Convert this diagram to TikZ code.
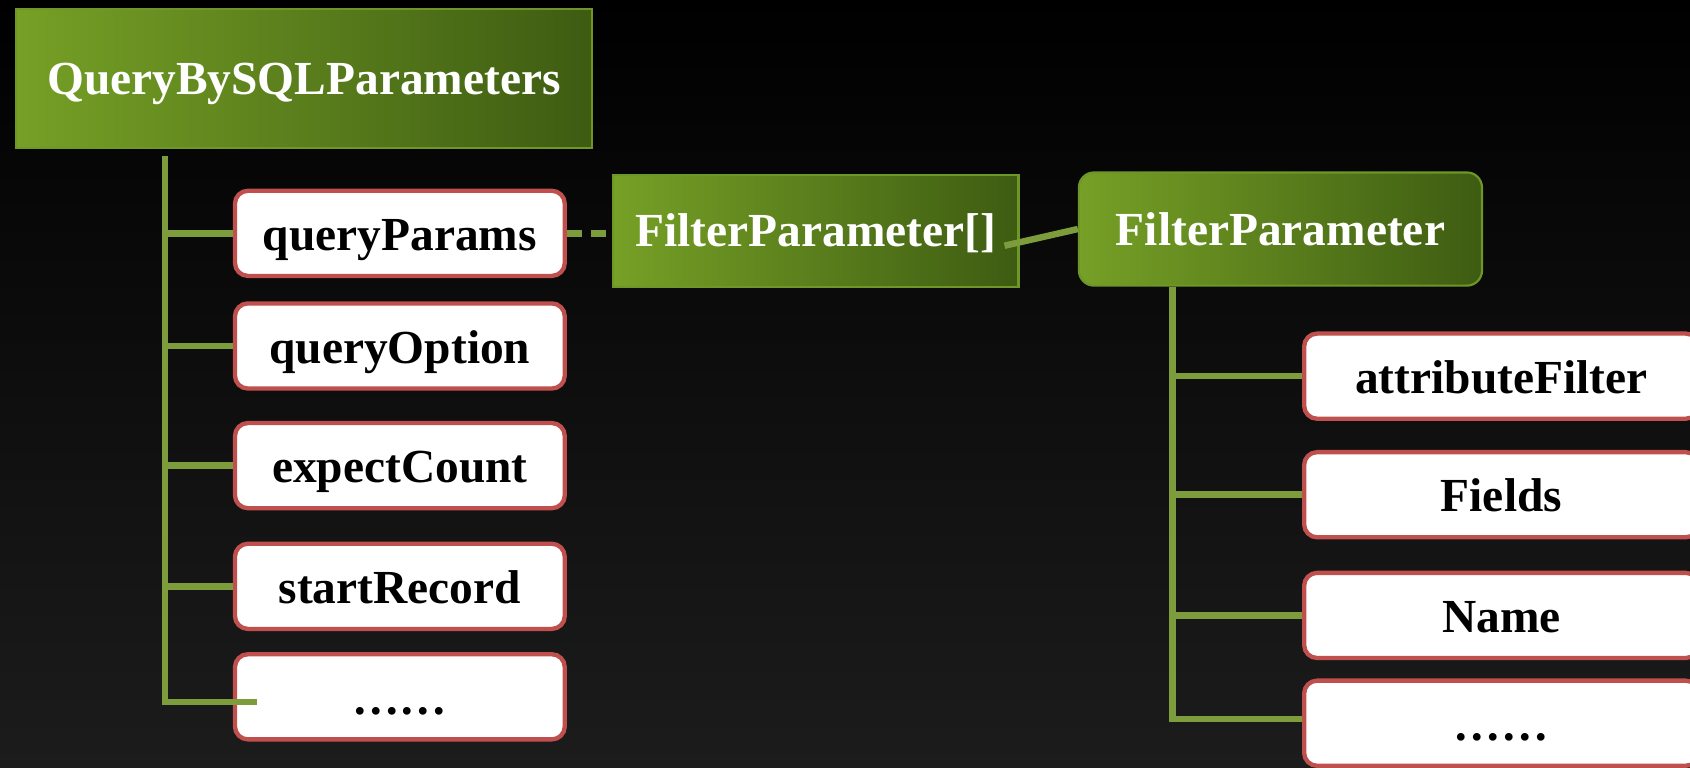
\documentclass[tikz,border=0pt]{standalone}
\usepackage{fontspec}
\setmainfont{Liberation Serif}
\usetikzlibrary{calc}
\definecolor{linkgreen}{RGB}{125,157,60}
\definecolor{headlight}{RGB}{118,160,38}
\definecolor{headmid}{RGB}{98,138,30}
\definecolor{headdark}{RGB}{62,92,18}
\definecolor{headrim}{RGB}{110,150,40}
\definecolor{itemrim}{RGB}{192,80,77}
\definecolor{bgbottom}{RGB}{28,28,28}
\tikzset{
    head/.style={left color=headlight, middle color=headmid, right color=headdark, draw=headrim, line width=2pt, text=white, inner sep=0pt, text height=34pt, text depth=4pt, font=\bfseries\fontsize{44}{52}\selectfont},
    item/.style={fill=white, draw=itemrim, line width=4pt, rounded corners=12pt, minimum width=306pt, minimum height=79pt, inner sep=0pt, text height=36pt, text depth=4pt, font=\bfseries\fontsize{44}{52}\selectfont},
    link/.style={draw=linkgreen, line width=6pt}
}

\begin{document}
\begin{tikzpicture}[x=1pt, y=-1pt]
    \useasboundingbox (0,0) rectangle (1568,712);
    \shade[top color=black, bottom color=bgbottom] (0,0) rectangle (1568,712);

    \node[head, minimum width=534pt, minimum height=129pt] at (282, 72.5) (qbs) {QueryBySQLParameters};
    \node[item] at (371, 216.5) (qp) {queryParams};
    \node[item] at (371, 321) (qo) {queryOption};
    \node[item] at (371, 432) (ec) {expectCount};
    \node[item] at (371, 544) (sr) {startRecord};
    \node[item] at (371, 646.5) (more1) {……};

    \node[head, minimum width=376pt, minimum height=104pt] at (757, 214) (fpa) {FilterParameter[]};
    \node[head, minimum width=374pt, minimum height=105pt, rounded corners=14pt] at (1188, 212.5) (fp) {FilterParameter};
    \node[item, minimum width=366pt] at (1393, 349) (af) {attributeFilter};
    \node[item, minimum width=366pt] at (1393, 459) (fl) {Fields};
    \node[item, minimum width=366pt] at (1393, 571) (nm) {Name};
    \node[item, minimum width=366pt] at (1393, 671) (more2) {……};

    \coordinate (ltop) at ($(qbs.south west)+(139,7)$);
    \coordinate (rtop) at ($(fp.south west)+(88,0)$);
    \draw[link] (ltop) |- ($(more1.west)+(22,5)$);
    \foreach \n in {qp,qo,ec,sr}
        \draw[link] (ltop |- \n.west) -- (\n.west);
    \draw[link] (rtop) |- ($(more2.west)+(0,-4)$);
    \foreach \n in {af,fl,nm}
        \draw[link] (rtop |- \n.west) -- (\n.west);
    \draw[link, dash pattern=on 14pt off 8pt] (qp.east) -- (fpa.west |- qp.east);
    \draw[link] ($(fpa.east)+(-14,14)$) -- (fp.west);
\end{tikzpicture}
\end{document}
